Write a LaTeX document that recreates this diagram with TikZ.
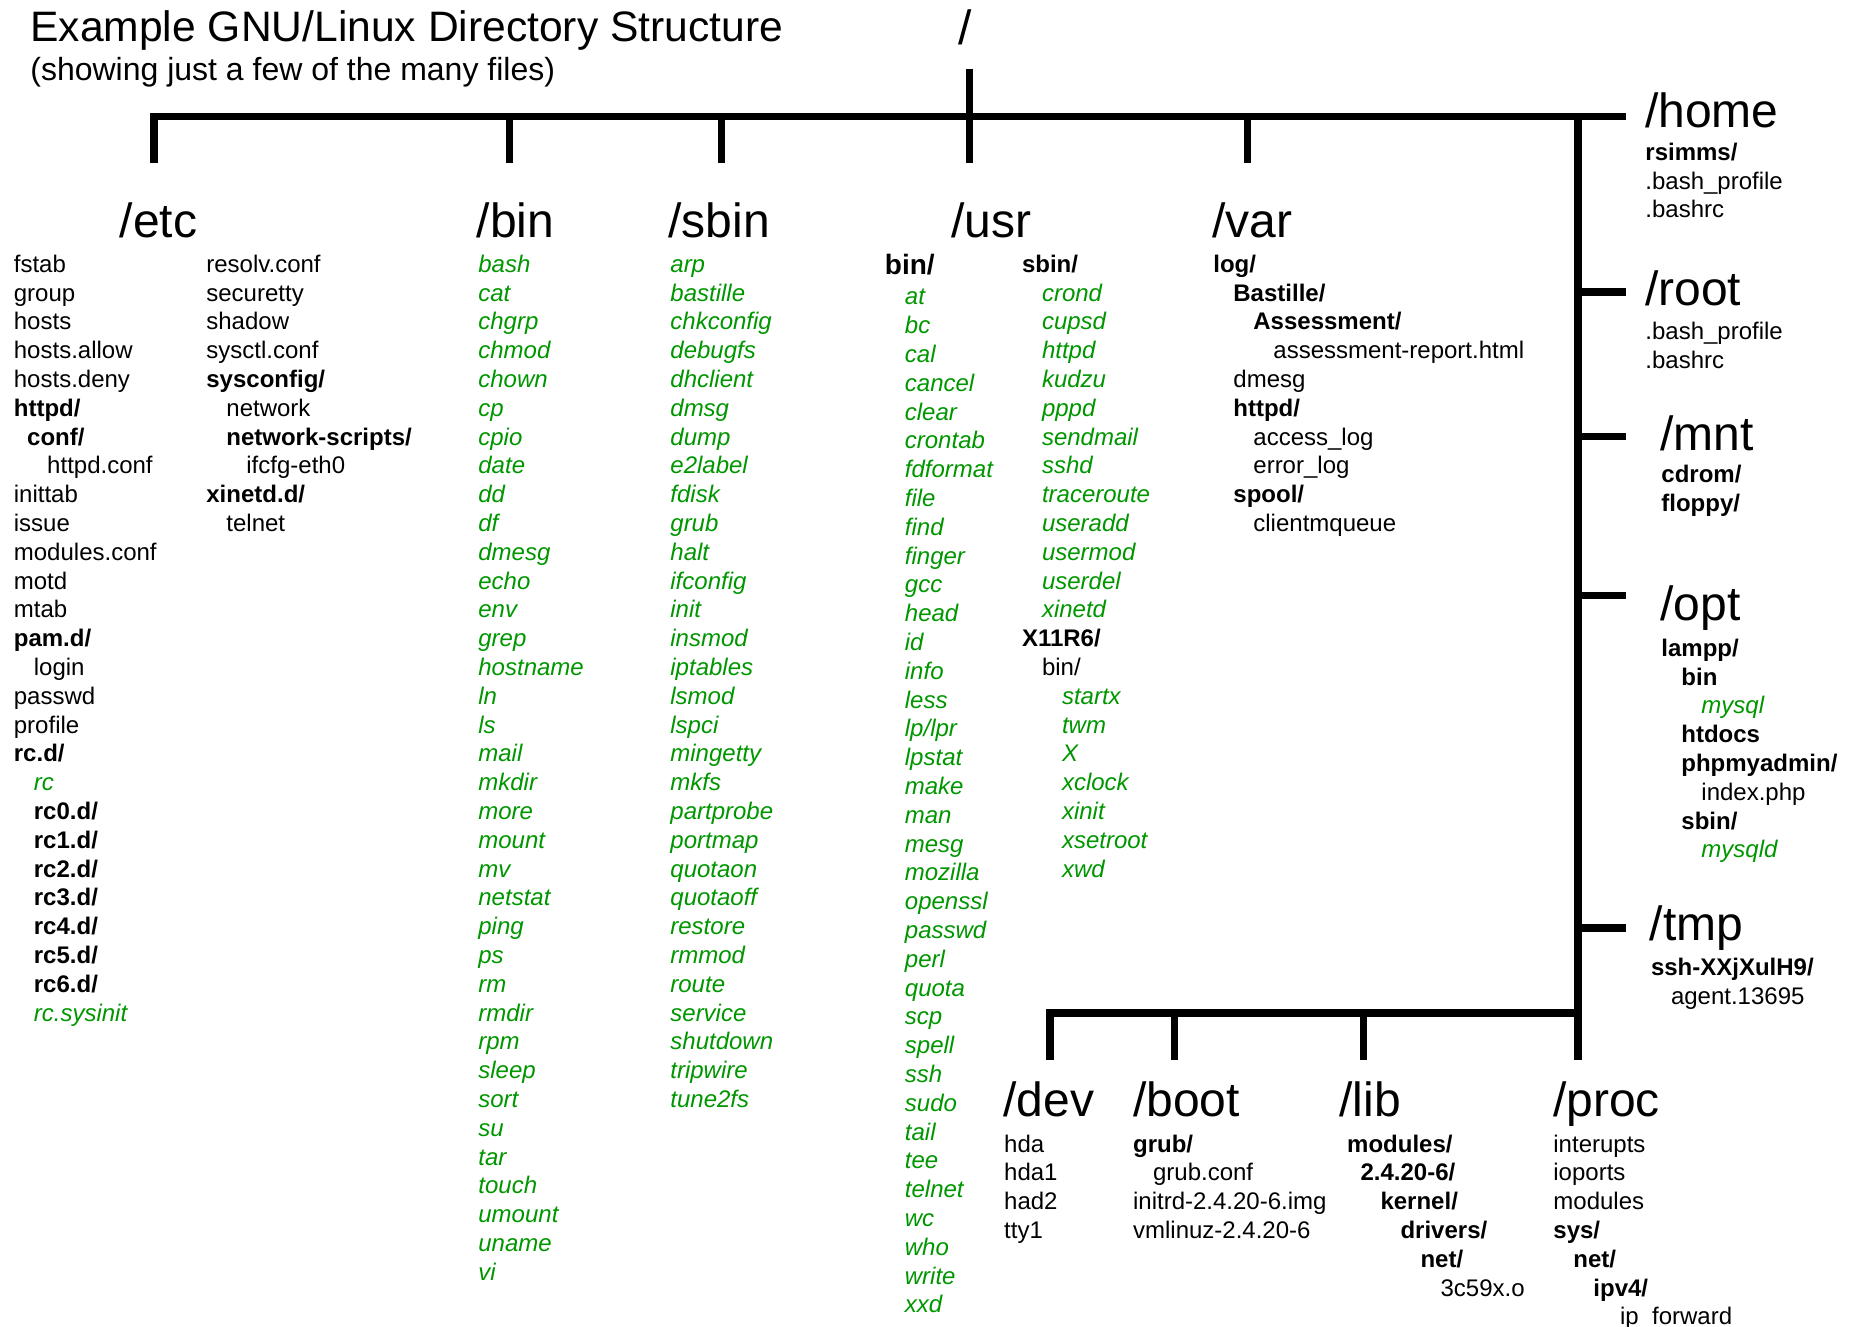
\documentclass[tikz,border=0pt]{standalone}
\usepackage{fontspec}
\setmainfont{Liberation Sans}
\usepackage{xcolor}
\usepackage{tikz}
\usetikzlibrary{positioning}
\definecolor{exegreen}{RGB}{0,150,0}
\newcommand{\lstfont}{\fontsize{12}{14.4}\selectfont}
\newcommand{\headfont}{\fontsize{24}{28}\selectfont}
\newcommand{\prog}[1]{\textcolor{exegreen}{\itshape #1}}
\newcommand{\folder}[1]{\textbf{#1}}
\newcommand{\ind}[1]{\hspace*{#1\fontdimen2\font}}

\begin{document}
\begin{tikzpicture}[
  x=0.5pt, y=-0.5pt,
  dirhead/.style={anchor=base west, inner sep=0pt, font=\headfont},
  filelist/.style={anchor=north west, inner sep=0pt, align=left,
                   font=\lstfont},
  exelist/.style={filelist, font=\lstfont\itshape, text=exegreen},
  treeline/.style={line width=3.6pt, line join=miter, draw=black},
]
\useasboundingbox (0,0) rectangle (1854,1327);

% =================================================================
%  TITLE AND ROOT
% =================================================================
\node[anchor=base west, inner sep=0pt, font=\fontsize{21.3}{25}\selectfont]
  (title) at (30,41.4) {Example GNU/Linux Directory Structure};
\node[anchor=base west, inner sep=0pt, font=\fontsize{16}{19}\selectfont]
  (subtitle) at (30,80.4) {(showing just a few of the many files)};
\node[dirhead] (root) at (957.7,45) {/};

% =================================================================
%  TREE LINES
% =================================================================
\coordinate (rootTop) at (969.6,68.6);
\coordinate (busE)    at (1626,116.5);
\coordinate (trunkN)  at (1578,116.5);
\coordinate (trunkS)  at (1578,1060);
\coordinate (lowE)    at (1578,1013);

\coordinate (tEtc)  at (154,163);
\coordinate (tBin)  at (509.6,163);
\coordinate (tSbin) at (721.5,163);
\coordinate (tUsr)  at (969.6,163);
\coordinate (tVar)  at (1247.6,163);

\coordinate (tRoot) at (1626,292);
\coordinate (tMnt)  at (1626,436.5);
\coordinate (tOpt)  at (1626,595.5);
\coordinate (tTmp)  at (1626,928);

\coordinate (tDev)  at (1050,1060);
\coordinate (tBoot) at (1174.3,1060);
\coordinate (tLib)  at (1363.3,1060);

\draw[treeline] (tEtc) |- (busE);
\draw[treeline] (tBin) -- (tBin |- busE);
\draw[treeline] (tSbin) -- (tSbin |- busE);
\draw[treeline] (rootTop) -- (tUsr);
\draw[treeline] (tVar) -- (tVar |- busE);

\draw[treeline] (trunkN) -- (trunkS);
\draw[treeline] (tRoot -| trunkN) -- (tRoot);
\draw[treeline] (tMnt -| trunkN) -- (tMnt);
\draw[treeline] (tOpt -| trunkN) -- (tOpt);
\draw[treeline] (tTmp -| trunkN) -- (tTmp);

\draw[treeline] (tDev) |- (lowE);
\draw[treeline] (tBoot) -- (tBoot |- lowE);
\draw[treeline] (tLib) -- (tLib |- lowE);

% =================================================================
%  TOP ROW -- /etc /bin /sbin /usr /var
% =================================================================
\node[dirhead] (etc)  at (119.4,237) {/etc};
\node[dirhead] (bin)  at (476.5,237) {/bin};
\node[dirhead] (sbin) at (668,237)   {/sbin};
\node[dirhead] (usr)  at (950.7,237) {/usr};
\node[dirhead] (var)  at (1212,237)  {/var};

\node[filelist] (etcA) at (13.5,251.8)
  {\strut fstab\\group\\hosts\\hosts.allow\\hosts.deny\\
   \folder{httpd/}\\\ind{2}\folder{conf/}\\\ind{5}httpd.conf\\
   inittab\\issue\\modules.conf\\motd\\mtab\\
   \folder{pam.d/}\\\ind{3}login\\passwd\\profile\\
   \folder{rc.d/}\\\ind{3}\prog{rc}\\
   \ind{3}\folder{rc0.d/}\\\ind{3}\folder{rc1.d/}\\\ind{3}\folder{rc2.d/}\\
   \ind{3}\folder{rc3.d/}\\\ind{3}\folder{rc4.d/}\\\ind{3}\folder{rc5.d/}\\
   \ind{3}\folder{rc6.d/}\\\ind{3}\prog{rc.sysinit}};

\node[filelist] (etcB) at (206,251.8)
  {\strut resolv.conf\\securetty\\shadow\\sysctl.conf\\
   \folder{sysconfig/}\\\ind{3}network\\\ind{3}\folder{network-scripts/}\\
   \ind{6}ifcfg-eth0\\\folder{xinetd.d/}\\\ind{3}telnet};

\node[exelist] (binA) at (478,251.8)
  {\strut bash\\cat\\chgrp\\chmod\\chown\\cp\\cpio\\date\\dd\\df\\
   dmesg\\echo\\env\\grep\\hostname\\ln\\ls\\mail\\mkdir\\more\\
   mount\\mv\\netstat\\ping\\ps\\rm\\rmdir\\rpm\\sleep\\sort\\
   su\\tar\\touch\\umount\\uname\\vi};

\node[exelist] (sbinA) at (670,251.8)
  {\strut arp\\bastille\\chkconfig\\debugfs\\dhclient\\dmsg\\dump\\
   e2label\\fdisk\\grub\\halt\\ifconfig\\init\\insmod\\iptables\\
   lsmod\\lspci\\mingetty\\mkfs\\partprobe\\portmap\\quotaon\\
   quotaoff\\restore\\rmmod\\route\\service\\shutdown\\tripwire\\
   tune2fs};

\node[filelist] (usrA) at (884.5,253.8)
  {\strut{\fontsize{14}{14.4}\selectfont\folder{bin/}}\\[0.8pt]
   \ind{3}\prog{at}\\\ind{3}\prog{bc}\\\ind{3}\prog{cal}\\
   \ind{3}\prog{cancel}\\\ind{3}\prog{clear}\\\ind{3}\prog{crontab}\\
   \ind{3}\prog{fdformat}\\\ind{3}\prog{file}\\\ind{3}\prog{find}\\
   \ind{3}\prog{finger}\\\ind{3}\prog{gcc}\\\ind{3}\prog{head}\\
   \ind{3}\prog{id}\\\ind{3}\prog{info}\\\ind{3}\prog{less}\\
   \ind{3}\prog{lp/lpr}\\\ind{3}\prog{lpstat}\\\ind{3}\prog{make}\\
   \ind{3}\prog{man}\\\ind{3}\prog{mesg}\\\ind{3}\prog{mozilla}\\
   \ind{3}\prog{openssl}\\\ind{3}\prog{passwd}\\\ind{3}\prog{perl}\\
   \ind{3}\prog{quota}\\\ind{3}\prog{scp}\\\ind{3}\prog{spell}\\
   \ind{3}\prog{ssh}\\\ind{3}\prog{sudo}\\\ind{3}\prog{tail}\\
   \ind{3}\prog{tee}\\\ind{3}\prog{telnet}\\\ind{3}\prog{wc}\\
   \ind{3}\prog{who}\\\ind{3}\prog{write}\\\ind{3}\prog{xxd}};

\node[filelist] (usrB) at (1021.6,251.8)
  {\strut\folder{sbin/}\\
   \ind{3}\prog{crond}\\\ind{3}\prog{cupsd}\\\ind{3}\prog{httpd}\\
   \ind{3}\prog{kudzu}\\\ind{3}\prog{pppd}\\\ind{3}\prog{sendmail}\\
   \ind{3}\prog{sshd}\\\ind{3}\prog{traceroute}\\\ind{3}\prog{useradd}\\
   \ind{3}\prog{usermod}\\\ind{3}\prog{userdel}\\\ind{3}\prog{xinetd}\\
   \folder{X11R6/}\\\ind{3}bin/\\
   \ind{6}\prog{startx}\\\ind{6}\prog{twm}\\\ind{6}\prog{X}\\
   \ind{6}\prog{xclock}\\\ind{6}\prog{xinit}\\\ind{6}\prog{xsetroot}\\
   \ind{6}\prog{xwd}};

\node[filelist] (varA) at (1213,251.8)
  {\strut\folder{log/}\\\ind{3}\folder{Bastille/}\\
   \ind{6}\folder{Assessment/}\\\ind{9}assessment-report.html\\
   \ind{3}dmesg\\\ind{3}\folder{httpd/}\\\ind{6}access\_log\\
   \ind{6}error\_log\\\ind{3}\folder{spool/}\\\ind{6}clientmqueue};

% =================================================================
%  RIGHT COLUMN -- /home /root /mnt /opt /tmp
% =================================================================
\node[dirhead] (home) at (1644.7,127) {/home};
\node[dirhead] (rootdir) at (1644.7,305) {/root};
\node[dirhead] (mnt)  at (1660,450)   {/mnt};
\node[dirhead] (opt)  at (1660,620)   {/opt};
\node[dirhead] (tmp)  at (1649.5,940) {/tmp};

\node[filelist] (homeA) at (1645,139.8)
  {\strut\folder{rsimms/}\\.bash\_profile\\.bashrc};
\node[filelist] (rootA) at (1645,318.8)
  {\strut .bash\_profile\\.bashrc};
\node[filelist] (mntA) at (1661,462.2)
  {\strut\folder{cdrom/}\\\folder{floppy/}};
\node[filelist] (optA) at (1661,635.8)
  {\strut\folder{lampp/}\\\ind{3}\folder{bin}\\\ind{6}\prog{mysql}\\
   \ind{3}\folder{htdocs}\\\ind{3}\folder{phpmyadmin/}\\\ind{6}index.php\\
   \ind{3}\folder{sbin/}\\\ind{6}\prog{mysqld}};
\node[filelist] (tmpA) at (1650.6,955.3)
  {\strut\folder{ssh-XXjXulH9/}\\\ind{3}agent.13695};

% =================================================================
%  BOTTOM ROW -- /dev /boot /lib /proc
% =================================================================
\node[dirhead] (dev)  at (1003,1116)   {/dev};
\node[dirhead] (boot) at (1132.7,1116) {/boot};
\node[dirhead] (lib)  at (1339,1116)   {/lib};
\node[dirhead] (proc) at (1552.7,1116) {/proc};

\node[filelist] (devA) at (1003.8,1131.5)
  {\strut hda\\hda1\\had2\\tty1};
\node[filelist] (bootA) at (1132.7,1131.5)
  {\strut\folder{grub/}\\\ind{3}grub.conf\\initrd-2.4.20-6.img\\
   vmlinuz-2.4.20-6};
\node[filelist] (libA) at (1346.8,1131.5)
  {\strut\folder{modules/}\\\ind{2}\folder{2.4.20-6/}\\
   \ind{5}\folder{kernel/}\\\ind{8}\folder{drivers/}\\
   \ind{11}\folder{net/}\\\ind{14}3c59x.o};
\node[filelist] (procA) at (1553,1131.5)
  {\strut interupts\\ioports\\modules\\\folder{sys/}\\
   \ind{3}\folder{net/}\\\ind{6}\folder{ipv4/}\\\ind{10}ip\_forward};

\end{tikzpicture}
\end{document}
